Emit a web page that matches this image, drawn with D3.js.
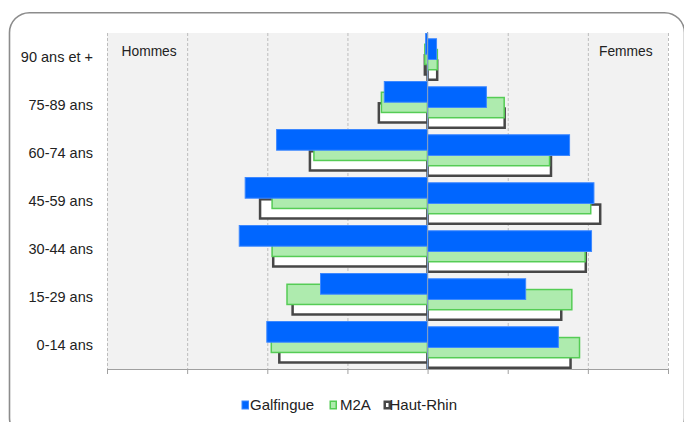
<!DOCTYPE html>
<html><head><meta charset="utf-8">
<script src="https://cdn.jsdelivr.net/npm/d3@7"></script>
<style>html,body{margin:0;padding:0;background:#fff;}svg{display:block;font-family:"Liberation Sans",Arial,sans-serif;}</style>
</head><body><svg id="c" width="684" height="422"></svg>
<script>
const categories = ["90 ans et +","75-89 ans","60-74 ans","45-59 ans","30-44 ans","15-29 ans","0-14 ans"];
const seriesNames = ["Galfingue","M2A","Haut-Rhin"];
const galfingueH = [0.12, 2.70, 9.42, 11.38, 11.75, 6.68, 10.03];
const galfingueF = [0.56, 3.67, 8.86, 10.38, 10.23, 6.12, 8.16];
const m2aH = [0.17, 2.88, 7.09, 9.70, 9.70, 8.77, 9.75];
const m2aF = [0.61, 4.78, 7.61, 10.18, 9.83, 9.00, 9.48];
const hrH = [0.17, 3.04, 7.34, 10.45, 9.63, 8.42, 9.25];
const hrF = [0.60, 4.81, 7.70, 10.77, 9.87, 8.34, 8.92];
const ticks = [-20,-15,-10,-5,0,5,10,15];

const svg = d3.select("#c");
// outer frame
svg.append("rect").attr("x",9.5).attr("y",12.7).attr("width",675).attr("height",425)
  .attr("rx",20).attr("fill","#fff").attr("stroke","#8c8c8c").attr("stroke-width",1.6);

const x = d3.scaleLinear().domain([-20,15]).range([107,668]);
const y = d3.scaleBand().domain(categories).range([33,369]).padding(0);

// plot background
svg.append("rect").attr("x",x(-20)).attr("y",33).attr("width",x(15)-x(-20)).attr("height",336).attr("fill","#f2f2f2");

// gridlines
svg.append("g").selectAll("line").data(ticks.filter(t=>t!==0)).join("line")
  .attr("x1",d=>x(d)+0.5).attr("x2",d=>x(d)+0.5).attr("y1",33).attr("y2",369)
  .attr("stroke","#bdbdbd").attr("stroke-width",1).attr("stroke-dasharray","3,2");

const styles = [
  {fill:"#0066ff", stroke:"#3d88ff", sw:1},
  {fill:"#aeebae", stroke:"#55cc55", sw:1.5},
  {fill:"#ffffff", stroke:"#474747", sw:2.5}
];
const data = [[galfingueH,galfingueF],[m2aH,m2aF],[hrH,hrF]];
const h = 21.7;
const step = (y.bandwidth()-h)/5;

// draw Haut-Rhin first, Galfingue last (on top)
for (let s = 2; s >= 0; s--) {
  const st = styles[s];
  const g = svg.append("g");
  [0,1].forEach(k => {
    const vals = data[s][k];
    g.selectAll(null).data(categories).join("rect")
      .attr("x", (c,i) => k===0 ? x(-vals[i]) : x(0))
      .attr("width", (c,i) => k===0 ? x(0)-x(-vals[i]) : x(vals[i])-x(0))
      .attr("y", c => y(c) + (s*2+k)*step + st.sw/2)
      .attr("height", h - st.sw)
      .attr("fill", st.fill).attr("stroke", st.stroke).attr("stroke-width", st.sw);
  });
}

// bottom axis
const ax = svg.append("g").attr("transform","translate(0,369)")
  .call(d3.axisBottom(x).tickValues(ticks).tickSize(5).tickFormat(""));
ax.select(".domain").attr("stroke","#a0a0a0").attr("d",`M${x(-20)},0.5H${x(15)}`);
ax.selectAll(".tick line").attr("stroke","#a0a0a0");

// central vertical axis
svg.append("line").attr("x1",x(0)).attr("x2",x(0)).attr("y1",32).attr("y2",369)
  .attr("stroke","#7f9dc6").attr("stroke-width",1.2);

// category labels
svg.append("g").selectAll("text").data(categories).join("text")
  .attr("x",93).attr("y",c=>y(c)+y.bandwidth()/2+4.5)
  .attr("text-anchor","end").attr("font-size","14.5px").attr("fill","#222").text(c=>c);

svg.append("text").attr("x",121.5).attr("y",56).attr("font-size","13.8px").attr("fill","#222").text("Hommes");
svg.append("text").attr("x",599).attr("y",56).attr("font-size","13.8px").attr("fill","#222").text("Femmes");

// legend
const legX = [241.5, 329.5, 383.5];
const lg = svg.append("g").selectAll("g").data(seriesNames).join("g")
  .attr("transform",(d,i)=>`translate(${legX[i]},0)`);
lg.append("rect").attr("x",(d,i)=>styles[i].sw/2).attr("y",(d,i)=>400.5+styles[i].sw/2)
  .attr("width",(d,i)=>7.5-styles[i].sw).attr("height",(d,i)=>9-styles[i].sw)
  .attr("fill",(d,i)=>styles[i].fill).attr("stroke",(d,i)=>styles[i].stroke).attr("stroke-width",(d,i)=>styles[i].sw);
lg.append("text").attr("x",(d,i)=>[8.5,10.5,6][i]).attr("y",409.5).attr("font-size","15px").attr("fill","#222").text(d=>d);
</script></body></html>
